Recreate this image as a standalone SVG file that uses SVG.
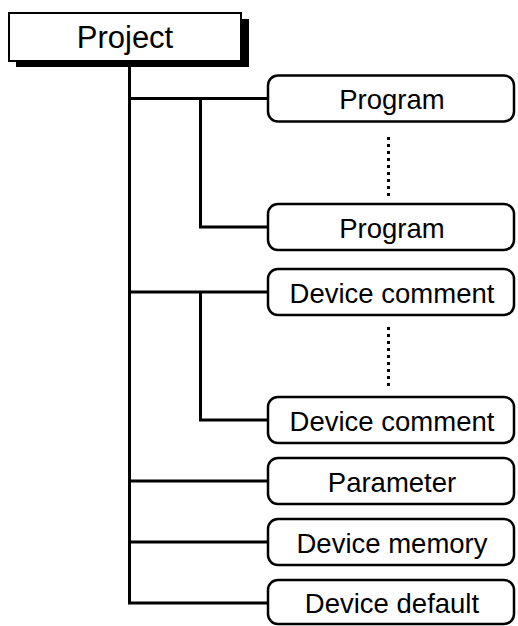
<svg xmlns="http://www.w3.org/2000/svg" width="518" height="626" viewBox="0 0 518 626">
<style>
.box{fill:#fff;stroke:#000;stroke-width:2.5}
.t{font-family:"Liberation Sans",Arial,sans-serif;font-size:27.5px;fill:#000;text-anchor:middle}
.ln{fill:none;stroke:#000;stroke-width:3}
.dot{fill:none;stroke:#000;stroke-width:3;stroke-dasharray:3 4}
</style>
<rect width="518" height="626" fill="#fff"/>
<g id="connectors">
<path class="ln" d="M129.5 66 V603 H268"/>
<path class="ln" d="M129.5 98.5 H268 M200.5 98.5 V227 H268"/>
<path class="ln" d="M129.5 292 H268 M200.5 292 V420 H268"/>
<path class="ln" d="M129.5 481 H268 M129.5 542 H268"/>
<path class="dot" d="M388.5 137 V199"/>
<path class="dot" d="M388.5 327 V389"/>
</g>
<g id="project">
<rect x="16" y="19" width="233" height="48" fill="#000"/>
<rect x="9" y="13" width="232" height="48" fill="#fff" stroke="#000" stroke-width="2"/>
<text class="t" x="125" y="48" style="font-size:31px">Project</text>
</g>
<g id="program1"><rect class="box" x="268" y="75.5" width="246" height="46" rx="10"/><text class="t" x="392" y="109">Program</text></g>
<g id="program2"><rect class="box" x="268" y="204" width="246" height="46" rx="10"/><text class="t" x="392" y="237.5">Program</text></g>
<g id="devcomment1"><rect class="box" x="268" y="269" width="246" height="46" rx="10"/><text class="t" x="392" y="302.5">Device comment</text></g>
<g id="devcomment2"><rect class="box" x="268" y="397" width="246" height="46" rx="10"/><text class="t" x="392" y="430.5">Device comment</text></g>
<g id="parameter"><rect class="box" x="268" y="458" width="246" height="46" rx="10"/><text class="t" x="392" y="491.5">Parameter</text></g>
<g id="devmemory"><rect class="box" x="268" y="519" width="246" height="46" rx="10"/><text class="t" x="392" y="552.5">Device memory</text></g>
<g id="devdefault"><rect class="box" x="268" y="580" width="246" height="44" rx="10"/><text class="t" x="392" y="612.5">Device default</text></g>
</svg>
